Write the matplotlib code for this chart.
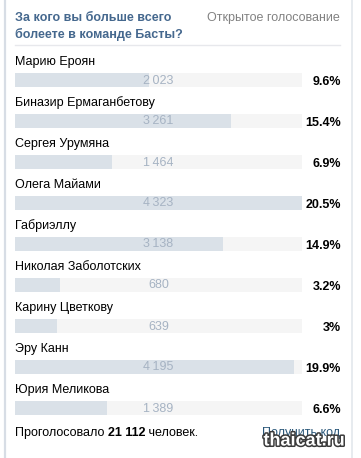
import matplotlib
matplotlib.use("Agg")
import matplotlib.pyplot as plt
import matplotlib.transforms as mtransforms
import matplotlib.patheffects as pe

plt.rcParams['font.family'] = ['Liberation Sans', 'DejaVu Sans']

title_lines = ["За кого вы больше всего", "болеете в команде Басты?"]
subtitle = "Открытое голосование"
names = ["Марию Ероян", "Биназир Ермаганбетову", "Сергея Урумяна", "Олега Майами",
         "Габриэллу", "Николая Заболотских", "Карину Цветкову", "Эру Канн", "Юрия Меликова"]
counts = [2023, 3261, 1464, 4323, 3138, 680, 639, 4195, 1389]
count_labels = ["2\u2009023", "3\u2009261", "1\u2009464", "4\u2009323", "3\u2009138",
                "680", "639", "4\u2009195", "1\u2009389"]
percents = ["9.6%", "15.4%", "6.9%", "20.5%", "14.9%", "3.2%", "3%", "19.9%", "6.6%"]
total_label = "21 112"
footer_pre = "Проголосовало "
footer_post = " человек."
link = "Получить код"
watermark = "thaicat.ru"

FS = 9.0
W, H = 361, 458
fig = plt.figure(figsize=(W / 100, H / 100), dpi=100)
fig.patch.set_facecolor('white')

# overlay axes in pixel coords
ax0 = fig.add_axes([0, 0, 1, 1])
ax0.set_xlim(0, W)
ax0.set_ylim(H, 0)
ax0.axis('off')

# borders
ax0.plot([5, 5], [0, H], color='#d7dde5', lw=1.6, solid_capstyle='butt')
ax0.plot([352, 352], [0, H], color='#e3e7ec', lw=1.2, solid_capstyle='butt')

# title
ax0.text(15, 18, title_lines[0], color='#45688e', fontsize=FS, fontweight='bold',
         ha='left', va='center')
ax0.text(15, 34, title_lines[1], color='#45688e', fontsize=FS, fontweight='bold',
         ha='left', va='center')
ax0.text(340, 18, subtitle, color='#828282', fontsize=FS, ha='right', va='center')
ax0.plot([15, 340], [44.5, 44.5], color='#e7e8ec', lw=1.0)

# bars axes
row_h = 41.0
first_c = 80.0
n = len(counts)
top_px = first_c - row_h / 2
bot_px = first_c + row_h * (n - 1) + row_h / 2
left_px, track_w = 15, 287
ax = fig.add_axes([left_px / W, 1 - bot_px / H, track_w / W, (bot_px - top_px) / H])
ax.axis('off')
vmax = max(counts)
ax.set_xlim(0, vmax)
ax.set_ylim(n - 0.5, -0.5)
ys = list(range(n))
bh = 14 / row_h
ax.barh(ys, [vmax] * n, height=bh, color='#f5f5f5', lw=0)
ax.barh(ys, counts, height=bh, color='#dae1e8', lw=0)

blend = mtransforms.blended_transform_factory(ax.transAxes, ax.transData)
for i in ys:
    ax.text(0.0, i - 18 / row_h, names[i], color='#000000', fontsize=FS,
            ha='left', va='center', transform=blend)
    ax.text(vmax / 2, i + 0.5 / row_h, count_labels[i], color='#a6b3c3', fontsize=FS,
            ha='center', va='center')
    ax.text((341 - left_px) / track_w, i + 2 / row_h, percents[i], color='#000000',
            fontsize=FS, fontweight='bold', ha='right', va='center', transform=blend)

# footer
t1 = ax0.text(15, 433, footer_pre, color='#000000', fontsize=FS, ha='left', va='center')
fig.canvas.draw()
r = fig.canvas.get_renderer()
bb = t1.get_window_extent(r)
t2 = ax0.text(bb.x1, H - 433, total_label, color='#000000', fontsize=FS, fontweight='bold',
              ha='left', va='center', transform=None)
bb2 = t2.get_window_extent(r)
ax0.text(bb2.x1, H - 433, footer_post, color='#000000', fontsize=FS,
         ha='left', va='center', transform=None)
ax0.text(340, 433, link, color='#2b587a', fontsize=FS, ha='right', va='center')

# watermark
ax0.text(304, 441, watermark, color='white', fontsize=13, fontweight='bold',
         ha='center', va='center',
         path_effects=[pe.withStroke(linewidth=2.2, foreground='#3a3a3a')])

fig.savefig('out.png', dpi=100, facecolor='white')
